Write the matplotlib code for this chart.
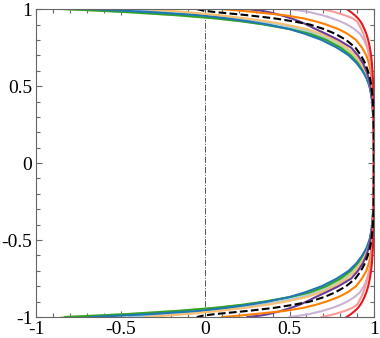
import matplotlib
matplotlib.use('Agg')
import matplotlib.pyplot as plt
from matplotlib.ticker import MultipleLocator

# y positions of the upper branch (the lower branch is its mirror image)
y_upper = [1.0, 0.99, 0.98, 0.96, 0.94, 0.92, 0.90, 0.87, 0.84, 0.80, 0.75,
           0.70, 0.65, 0.60, 0.55, 0.50, 0.45, 0.40, 0.30, 0.15, 0.0]

# x of each curve at the y positions above
x_lgreen = [-0.85, -0.64, -0.46, -0.17, 0.06, 0.23, 0.36, 0.52, 0.64, 0.735, 0.815,
            0.872, 0.912, 0.941, 0.962, 0.976, 0.985, 0.991, 0.996, 0.999, 1.0]
x_green = [-0.83, -0.63, -0.45, -0.16, 0.06, 0.22, 0.347, 0.503, 0.62, 0.716, 0.802,
           0.862, 0.904, 0.935, 0.958, 0.974, 0.983, 0.990, 0.996, 0.999, 1.0]
x_lblue = [-0.45, -0.33, -0.16, 0.034, 0.20, 0.33, 0.44, 0.57, 0.67, 0.76, 0.835,
           0.887, 0.923, 0.948, 0.967, 0.979, 0.987, 0.992, 0.997, 0.9995, 1.0]
x_blue = [-0.68, -0.48, -0.31, -0.03, 0.13, 0.26, 0.37, 0.50, 0.59, 0.69, 0.78,
          0.85, 0.897, 0.931, 0.957, 0.974, 0.983, 0.990, 0.996, 0.999, 1.0]
x_lorange = [-0.35, -0.22, -0.10, 0.086, 0.24, 0.37, 0.476, 0.603, 0.687, 0.768, 0.84,
             0.89, 0.924, 0.949, 0.968, 0.979, 0.987, 0.992, 0.997, 0.9995, 1.0]
x_purple = [0.25, 0.33, 0.38, 0.45, 0.51, 0.56, 0.60, 0.655, 0.715, 0.79, 0.865,
            0.905, 0.935, 0.955, 0.969, 0.979, 0.986, 0.991, 0.996, 0.999, 1.0]
x_orange = [0.10, 0.21, 0.30, 0.473, 0.583, 0.657, 0.717, 0.79, 0.843, 0.894, 0.929,
            0.955, 0.970, 0.980, 0.986, 0.991, 0.994, 0.996, 0.998, 0.9995, 1.0]
x_lpurple = [0.50, 0.564, 0.62, 0.696, 0.754, 0.802, 0.841, 0.885, 0.917, 0.940, 0.960,
             0.973, 0.982, 0.988, 0.992, 0.9945, 0.996, 0.997, 0.999, 1.0, 1.0]
x_pink = [0.69, 0.733, 0.77, 0.828, 0.873, 0.900, 0.911, 0.925, 0.937, 0.949, 0.962,
          0.972, 0.980, 0.985, 0.989, 0.992, 0.995, 0.997, 0.998, 0.9995, 1.0]
x_red = [0.838, 0.852, 0.865, 0.887, 0.906, 0.920, 0.931, 0.944, 0.955, 0.966, 0.976,
         0.983, 0.988, 0.991, 0.994, 0.996, 0.997, 0.998, 0.999, 1.0, 1.0]
x_black = [-0.05, -0.01, 0.066, 0.255, 0.41, 0.525, 0.62, 0.705, 0.77, 0.835, 0.89,
           0.923, 0.947, 0.964, 0.977, 0.985, 0.990, 0.994, 0.9975, 0.9995, 1.0]

curves = [
    (x_lgreen, '#b2df8a', '-'),
    (x_green, '#33a02c', '-'),
    (x_lblue, '#a6cee3', '-'),
    (x_blue, '#1f78b4', '-'),
    (x_lorange, '#fdbf6f', '-'),
    (x_purple, '#6a3d9a', '-'),
    (x_orange, '#ff7f00', '-'),
    (x_lpurple, '#cab2d6', '-'),
    (x_pink, '#fb9a99', '-'),
    (x_red, '#e31a1c', '-'),
    (x_black, 'black', '--'),
]

plt.rcParams['font.family'] = 'Liberation Serif'

fig = plt.figure(figsize=(3.8, 3.38), dpi=100)
ax = fig.add_axes([0.096, 0.062, 0.888, 0.911])

ax.axvline(0, color='#555555', lw=0.7, ls='-.')

for xs, col, ls in curves:
    # upper branch down to y=0, then mirrored lower branch
    xx = xs + xs[::-1][1:]
    yy = y_upper + [-v for v in y_upper[::-1][1:]]
    ax.plot(xx, yy, color=col, ls=ls, lw=1.5)

ax.set_xlim(-1, 1)
ax.set_ylim(-1, 1)
ax.xaxis.set_major_locator(MultipleLocator(0.5))
ax.yaxis.set_major_locator(MultipleLocator(0.5))
ax.xaxis.set_minor_locator(MultipleLocator(0.1))
ax.yaxis.set_minor_locator(MultipleLocator(0.1))
ax.xaxis.set_major_formatter(lambda v, p: '%g' % v)
ax.yaxis.set_major_formatter(lambda v, p: '%g' % v)
ax.tick_params(which='both', direction='in', top=True, right=True,
               color='#666666', labelsize=14, pad=3)
ax.tick_params(which='major', length=4.5, width=0.8)
ax.tick_params(which='minor', length=3, width=0.8)
for sp in ax.spines.values():
    sp.set_color('#666666')
    sp.set_linewidth(0.8)

fig.savefig('out.png', dpi=100)
